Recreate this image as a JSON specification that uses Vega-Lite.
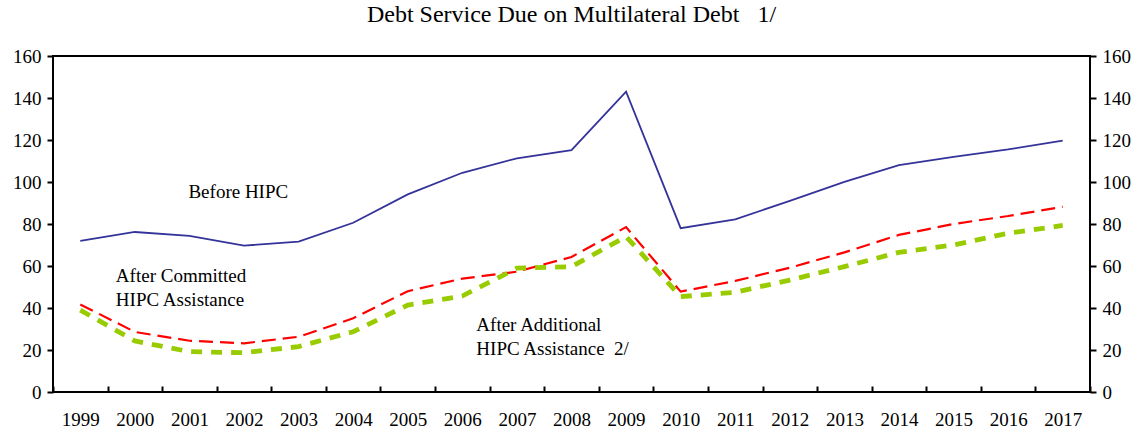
{
  "$schema": "https://vega.github.io/schema/vega-lite/v6.json",
  "width": 1037,
  "height": 336,
  "autosize": {"type": "none"},
  "padding": {"left": 53, "top": 56, "right": 45, "bottom": 42},
  "background": "white",
  "config": {
    "font": "Liberation Serif",
    "view": {"stroke": "black", "strokeWidth": 2},
    "axis": {"grid": false, "domain": false, "labelFont": "Liberation Serif", "labelFontSize": 19, "labelColor": "black", "tickColor": "black", "tickWidth": 2, "title": null}
  },
  "title": {"text": "Debt Service Due on Multilateral Debt \u00a0\u00a01/", "font": "Liberation Serif", "fontSize": 24, "fontWeight": "normal", "color": "black", "anchor": "middle", "offset": 20},
  "datasets": {
    "series": [
      {"year": "1999", "series": "Before HIPC", "value": 72},
      {"year": "2000", "series": "Before HIPC", "value": 76.2},
      {"year": "2001", "series": "Before HIPC", "value": 74.3},
      {"year": "2002", "series": "Before HIPC", "value": 69.7},
      {"year": "2003", "series": "Before HIPC", "value": 71.6},
      {"year": "2004", "series": "Before HIPC", "value": 80.6},
      {"year": "2005", "series": "Before HIPC", "value": 94.1},
      {"year": "2006", "series": "Before HIPC", "value": 104.4},
      {"year": "2007", "series": "Before HIPC", "value": 111.3},
      {"year": "2008", "series": "Before HIPC", "value": 115.2},
      {"year": "2009", "series": "Before HIPC", "value": 143},
      {"year": "2010", "series": "Before HIPC", "value": 78},
      {"year": "2011", "series": "Before HIPC", "value": 82.2},
      {"year": "2012", "series": "Before HIPC", "value": 91},
      {"year": "2013", "series": "Before HIPC", "value": 100.1},
      {"year": "2014", "series": "Before HIPC", "value": 108},
      {"year": "2015", "series": "Before HIPC", "value": 112},
      {"year": "2016", "series": "Before HIPC", "value": 115.5},
      {"year": "2017", "series": "Before HIPC", "value": 119.7},
      {"year": "1999", "series": "After Committed", "value": 41.7},
      {"year": "2000", "series": "After Committed", "value": 28.6},
      {"year": "2001", "series": "After Committed", "value": 24.4},
      {"year": "2002", "series": "After Committed", "value": 23.2},
      {"year": "2003", "series": "After Committed", "value": 26.3},
      {"year": "2004", "series": "After Committed", "value": 35.1},
      {"year": "2005", "series": "After Committed", "value": 48},
      {"year": "2006", "series": "After Committed", "value": 54},
      {"year": "2007", "series": "After Committed", "value": 57.3},
      {"year": "2008", "series": "After Committed", "value": 64.3},
      {"year": "2009", "series": "After Committed", "value": 78.5},
      {"year": "2010", "series": "After Committed", "value": 47.8},
      {"year": "2011", "series": "After Committed", "value": 52.9},
      {"year": "2012", "series": "After Committed", "value": 59.2},
      {"year": "2013", "series": "After Committed", "value": 66.5},
      {"year": "2014", "series": "After Committed", "value": 74.8},
      {"year": "2015", "series": "After Committed", "value": 80},
      {"year": "2016", "series": "After Committed", "value": 83.8},
      {"year": "2017", "series": "After Committed", "value": 88.2},
      {"year": "1999", "series": "After Additional", "value": 39},
      {"year": "2000", "series": "After Additional", "value": 24.3},
      {"year": "2001", "series": "After Additional", "value": 19.2},
      {"year": "2002", "series": "After Additional", "value": 18.7},
      {"year": "2003", "series": "After Additional", "value": 21.6},
      {"year": "2004", "series": "After Additional", "value": 28.7},
      {"year": "2005", "series": "After Additional", "value": 41.4},
      {"year": "2006", "series": "After Additional", "value": 45.7},
      {"year": "2007", "series": "After Additional", "value": 59},
      {"year": "2008", "series": "After Additional", "value": 59.7},
      {"year": "2009", "series": "After Additional", "value": 74},
      {"year": "2010", "series": "After Additional", "value": 45.4},
      {"year": "2011", "series": "After Additional", "value": 47.5},
      {"year": "2012", "series": "After Additional", "value": 53.3},
      {"year": "2013", "series": "After Additional", "value": 59.7},
      {"year": "2014", "series": "After Additional", "value": 66.5},
      {"year": "2015", "series": "After Additional", "value": 70},
      {"year": "2016", "series": "After Additional", "value": 75.6},
      {"year": "2017", "series": "After Additional", "value": 79.3}
    ],
    "labels": [
      {"id": "a", "year": "2001", "value": 92.4, "text": "Before HIPC"},
      {"id": "b", "year": "2000", "value": 52.4, "text": "After Committed|HIPC Assistance"},
      {"id": "c", "year": "2006", "value": 29, "text": "After Additional|HIPC Assistance \u00a02/"}
    ]
  },
  "encoding": {
    "x": {
      "field": "year", "type": "ordinal",
      "scale": {"type": "band", "paddingInner": 0, "paddingOuter": 0},
      "axis": {"labelAngle": 0, "tickBand": "extent", "tickSize": -6, "labelPadding": 24}
    }
  },
  "layer": [
    {
      "data": {"name": "series"},
      "transform": [{"filter": "datum.series == 'Before HIPC'"}],
      "mark": {"type": "line", "color": "#333399", "strokeWidth": 1.8},
      "encoding": {
        "y": {"field": "value", "type": "quantitative", "scale": {"domain": [0, 160], "nice": false}, "axis": {"orient": "left", "values": [0, 20, 40, 60, 80, 100, 120, 140, 160], "tickSize": 6, "labelPadding": 6}}
      }
    },
    {
      "data": {"name": "series"},
      "transform": [{"filter": "datum.series == 'After Committed'"}],
      "mark": {"type": "line", "color": "#ff0000", "strokeWidth": 2.2, "strokeDash": [14, 7], "strokeCap": "butt"},
      "encoding": {
        "y": {"field": "value", "type": "quantitative", "scale": {"domain": [0, 160], "nice": false}, "axis": {"orient": "right", "values": [0, 20, 40, 60, 80, 100, 120, 140, 160], "tickSize": 6, "labelPadding": 6}}
      }
    },
    {
      "data": {"name": "series"},
      "transform": [{"filter": "datum.series == 'After Additional'"}],
      "mark": {"type": "line", "color": "#99cc00", "strokeWidth": 4.8, "strokeDash": [11, 9], "strokeCap": "butt"},
      "encoding": {
        "y": {"field": "value", "type": "quantitative", "axis": null}
      }
    },
    {
      "data": {"name": "labels"},
      "transform": [{"filter": "datum.id == 'a'"}],
      "mark": {"type": "text", "align": "left", "baseline": "alphabetic", "fontSize": 19, "font": "Liberation Serif", "color": "black", "dx": -1, "lineBreak": "|", "lineHeight": 24},
      "encoding": {"y": {"field": "value", "type": "quantitative", "axis": null}, "text": {"field": "text"}}
    },
    {
      "data": {"name": "labels"},
      "transform": [{"filter": "datum.id == 'b'"}],
      "mark": {"type": "text", "align": "left", "baseline": "alphabetic", "fontSize": 19, "font": "Liberation Serif", "color": "black", "dx": -19, "lineBreak": "|", "lineHeight": 24},
      "encoding": {"y": {"field": "value", "type": "quantitative", "axis": null}, "text": {"field": "text"}}
    },
    {
      "data": {"name": "labels"},
      "transform": [{"filter": "datum.id == 'c'"}],
      "mark": {"type": "text", "align": "left", "baseline": "alphabetic", "fontSize": 19, "font": "Liberation Serif", "color": "black", "dx": 14, "lineBreak": "|", "lineHeight": 24},
      "encoding": {"y": {"field": "value", "type": "quantitative", "axis": null}, "text": {"field": "text"}}
    }
  ],
  "resolve": {"axis": {"y": "independent"}}
}
